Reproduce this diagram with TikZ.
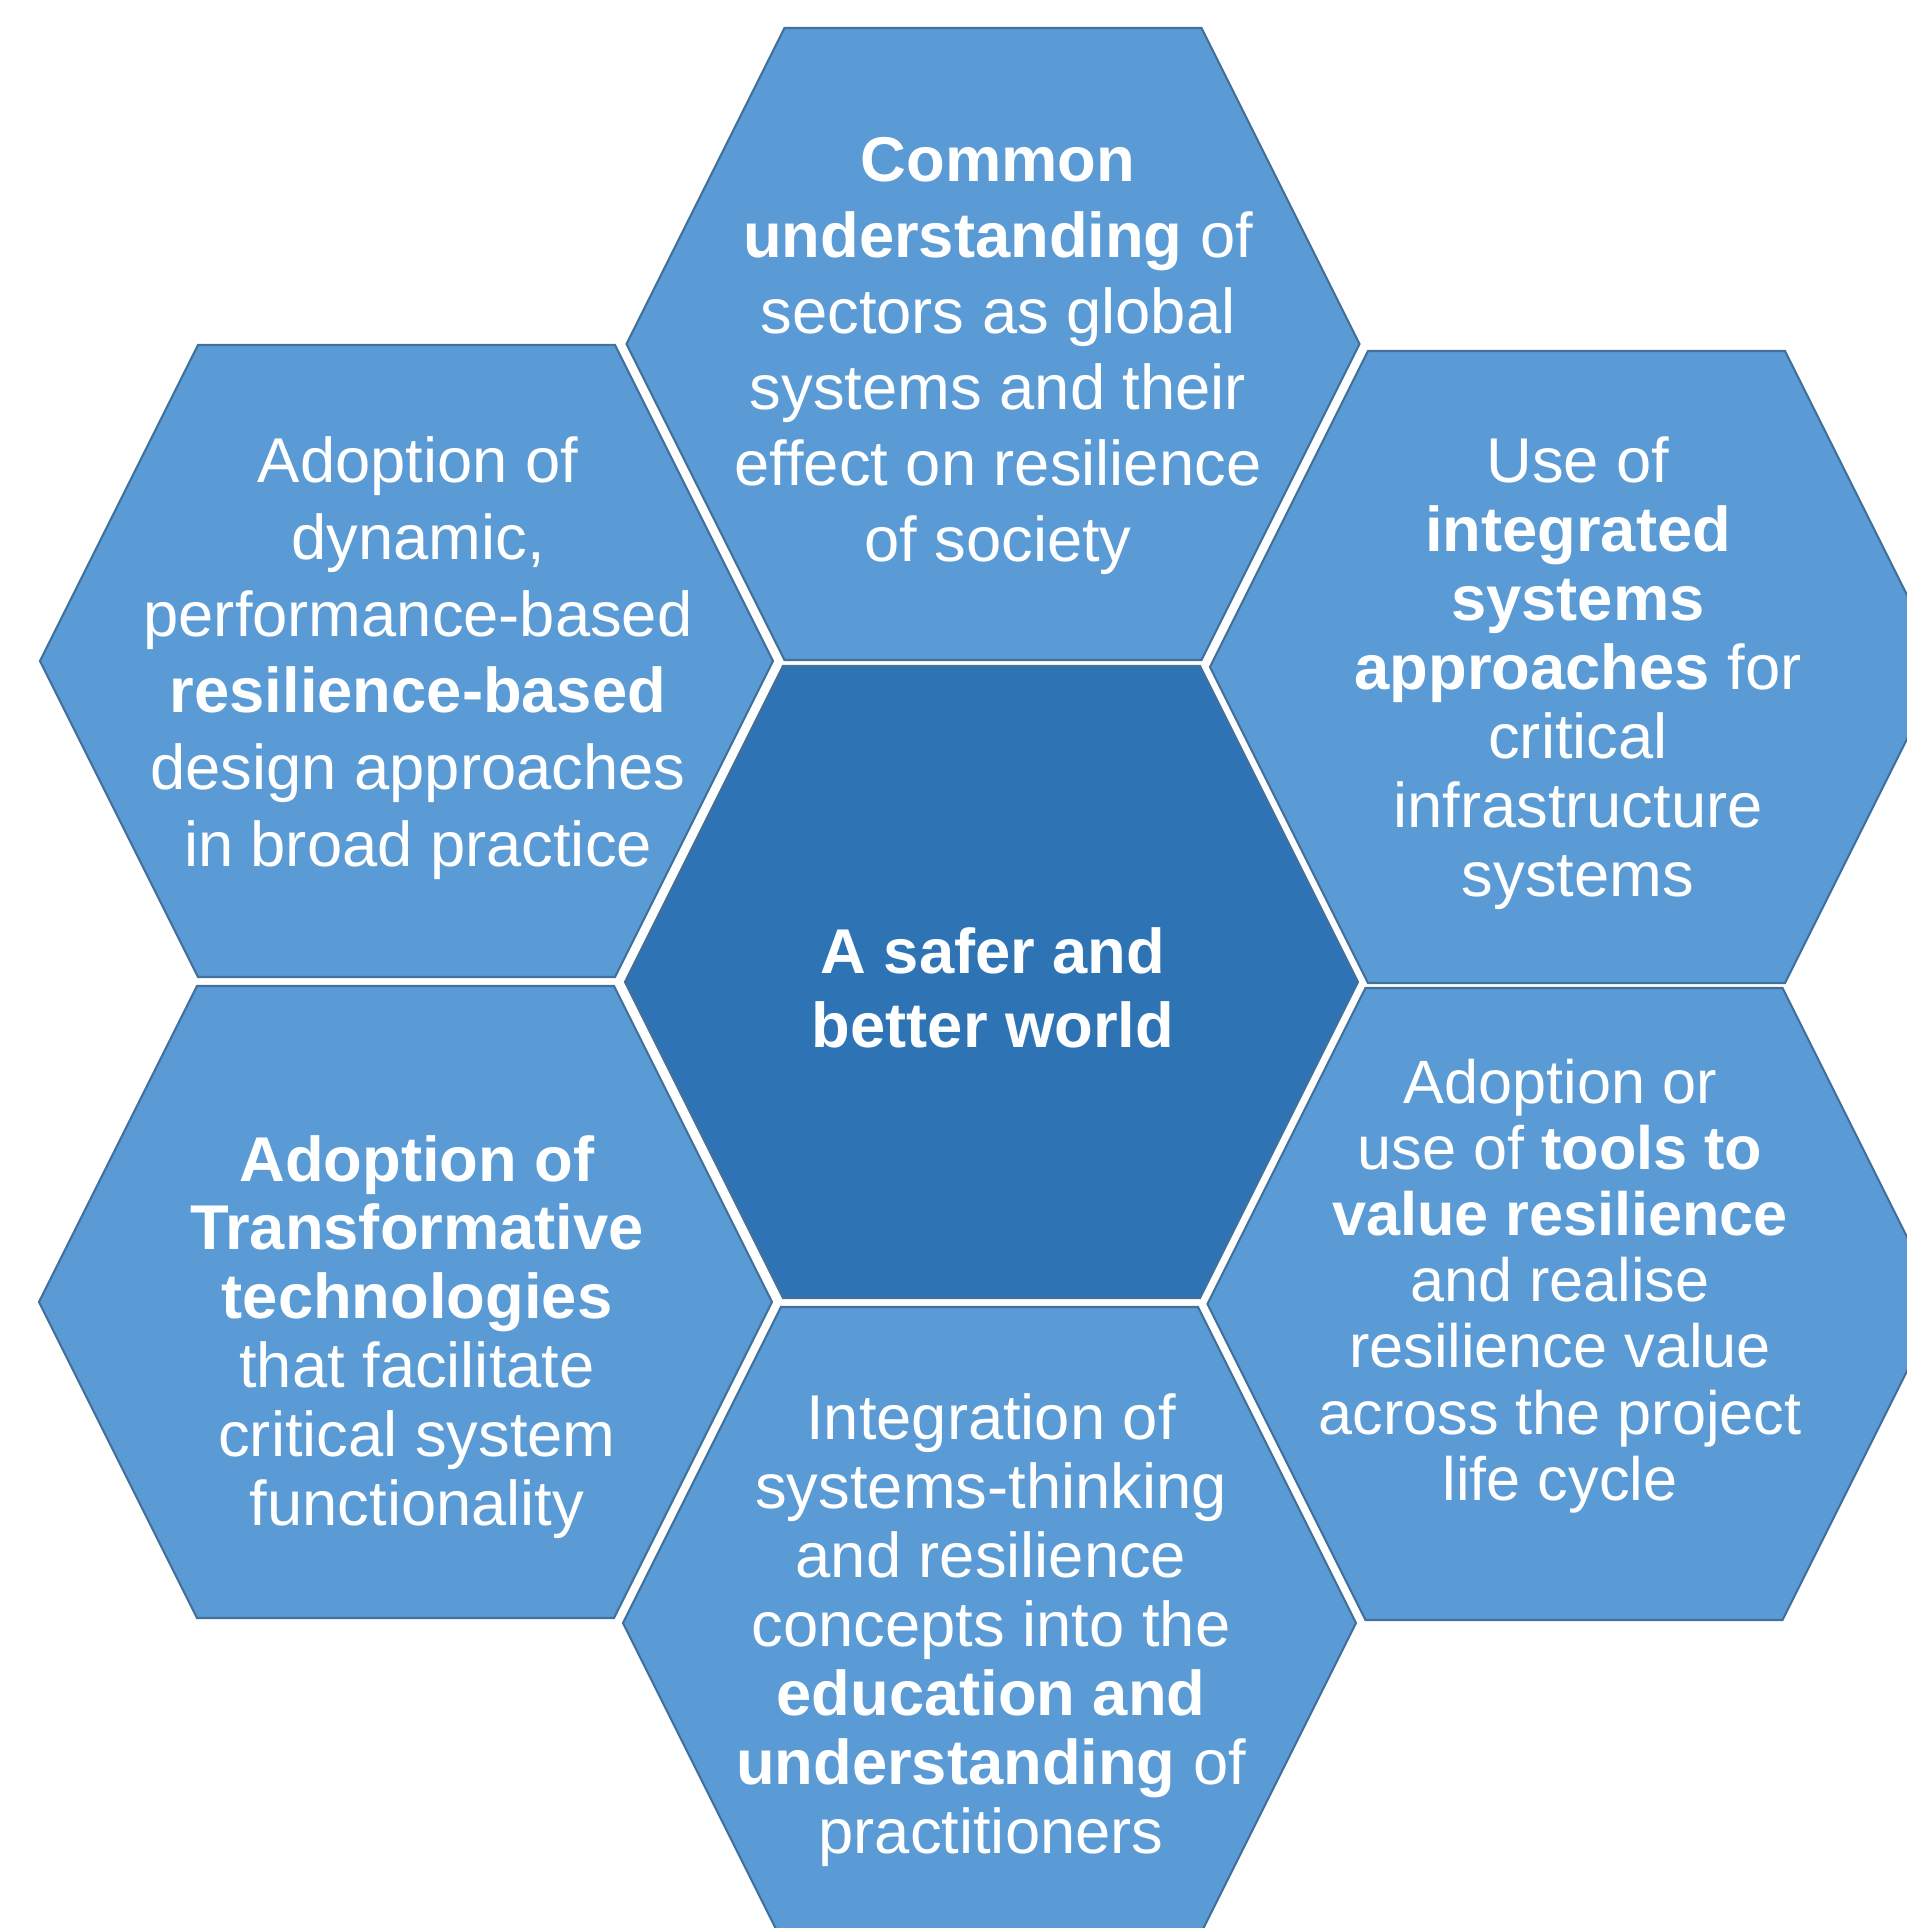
\documentclass[tikz,border=0pt]{standalone}
\usepackage{fontspec}
\setmainfont{Liberation Sans}
\definecolor{hexblue}{HTML}{5B9BD5}
\definecolor{hexdark}{HTML}{2E74B5}
\definecolor{hexedge}{HTML}{41719C}
\tikzset{
  hexcell/.style={draw=hexedge, line width=0.6pt, line join=miter},
  hextext/.style={text=white, align=center, inner sep=0pt}
}
% one hexagon round a named centre
\newcommand{\hexat}[2]{%
  \draw[hexcell, fill=#2] (#1) ++(-366.5,0) -- ++(158,-316) -- ++(417,0)
    -- ++(158,316) -- ++(-158,316) -- ++(-417,0) -- cycle;}
\begin{document}
\begin{tikzpicture}[x=0.01cm, y=-0.01cm]
    \useasboundingbox (0,0) rectangle (1907,1928);
    \clip (0,0) rectangle (1907,1928);
    \coordinate (world) at (991.5,982);
    \coordinate (common) at (993,344);
    \coordinate (design) at (406.5,661);
    \coordinate (integrated) at (1576.5,667);
    \coordinate (transform) at (405.5,1302);
    \coordinate (tools) at (1574,1304);
    \coordinate (education) at (989.5,1623);
    \foreach \c in {common, design, integrated, transform, tools, education}
        \hexat{\c}{hexblue};
    \hexat{world}{hexdark}
    \node[hextext, font=\fontsize{18}{21}\selectfont\bfseries] (worldText) at (993,988)
        {A safer and\\better world};
    \node[hextext, font=\fontsize{18}{21.6}\selectfont] (commonText) at (998,356)
        {\textbf{Common}\\\textbf{understanding} of\\sectors as global\\systems and their\\effect on resilience\\of society};
    \node[hextext, font=\fontsize{18}{21.8}\selectfont] (designText) at (418,658)
        {Adoption of\\dynamic,\\performance-based\\\textbf{resilience-based}\\design approaches\\in broad practice};
    \node[hextext, font=\fontsize{18}{19.6}\selectfont] (integratedText) at (1578,673)
        {Use of\\\textbf{integrated}\\\textbf{systems}\\\textbf{approaches} for\\critical\\infrastructure\\systems};
    \node[hextext, font=\fontsize{18}{19.6}\selectfont] (transformText) at (417,1337)
        {\textbf{Adoption of}\\\textbf{Transformative}\\\textbf{technologies}\\that facilitate\\critical system\\functionality};
    \node[hextext, font=\fontsize{17.4}{18.8}\selectfont] (toolsText) at (1560,1286)
        {Adoption or\\use of \textbf{tools to}\\\textbf{value resilience}\\and realise\\resilience value\\across the project\\life cycle};
    \node[hextext, font=\fontsize{18}{19.6}\selectfont] (educationText) at (991,1630)
        {Integration of\\systems-thinking\\and resilience\\concepts into the\\\textbf{education and}\\\textbf{understanding} of\\practitioners};
\end{tikzpicture}
\end{document}
